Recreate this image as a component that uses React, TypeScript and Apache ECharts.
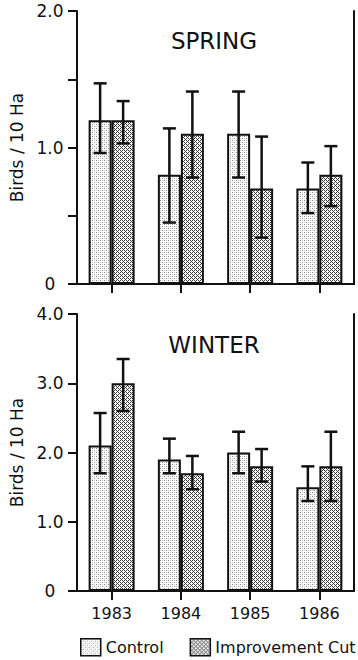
import React, { useEffect, useRef } from "react";
import * as echarts from "echarts";

const YEARS = ["1983", "1984", "1985", "1986"];

const SPRING_CONTROL = [1.2, 0.8, 1.1, 0.7];
const SPRING_CONTROL_LOW = [0.96, 0.45, 0.78, 0.52];
const SPRING_CONTROL_HIGH = [1.47, 1.14, 1.41, 0.89];
const SPRING_CUT = [1.2, 1.1, 0.7, 0.8];
const SPRING_CUT_LOW = [1.03, 0.78, 0.34, 0.57];
const SPRING_CUT_HIGH = [1.34, 1.41, 1.08, 1.01];

const WINTER_CONTROL = [2.1, 1.9, 2.0, 1.5];
const WINTER_CONTROL_LOW = [1.7, 1.7, 1.7, 1.3];
const WINTER_CONTROL_HIGH = [2.57, 2.2, 2.3, 1.8];
const WINTER_CUT = [3.0, 1.7, 1.8, 1.8];
const WINTER_CUT_LOW = [2.6, 1.47, 1.58, 1.3];
const WINTER_CUT_HIGH = [3.35, 1.95, 2.05, 2.3];

const FONT = "DejaVu Sans";
const INK = "#111";
const BAR_W = 23;

function makePattern(kind: "light" | "dense") {
  const c = document.createElement("canvas");
  c.width = 4;
  c.height = 4;
  const ctx = c.getContext("2d")!;
  ctx.fillStyle = "#ffffff";
  ctx.fillRect(0, 0, 4, 4);
  if (kind === "light") {
    ctx.fillStyle = "#8a8a8a";
    ctx.fillRect(0, 0, 1, 1);
    ctx.fillRect(2, 2, 1, 1);
    ctx.fillStyle = "#cfcfcf";
    ctx.fillRect(2, 0, 1, 1);
    ctx.fillRect(0, 2, 1, 1);
  } else {
    ctx.fillStyle = "#3a3a3a";
    for (let y = 0; y < 4; y++) {
      for (let x = 0; x < 4; x++) {
        if ((x + y) % 2 === 0) ctx.fillRect(x, y, 1, 1);
      }
    }
    ctx.fillStyle = "#ffffff";
    ctx.fillRect(1, 1, 1, 1);
    ctx.fillRect(3, 3, 1, 1);
  }
  return { image: c, repeat: "repeat" };
}

function errData(low: number[], high: number[]) {
  return low.map((l, i) => [i, l, high[i]]);
}

function errSeries(name: string, gi: number, data: number[][], offset: number) {
  return {
    type: "custom",
    name: name + " err",
    xAxisIndex: gi * 2,
    yAxisIndex: gi * 2,
    z: 5,
    silent: true,
    encode: { x: 0, y: [1, 2] },
    data,
    renderItem: (params: any, api: any) => {
      const i = api.value(0);
      const hi = api.coord([i, api.value(2)]);
      const lo = api.coord([i, api.value(1)]);
      const x = hi[0] + offset;
      const style = { stroke: INK, lineWidth: 2.5 };
      const cap = 6.5;
      return {
        type: "group",
        children: [
          { type: "line", shape: { x1: x, y1: hi[1], x2: x, y2: lo[1] }, style },
          { type: "line", shape: { x1: x - cap, y1: hi[1], x2: x + cap, y2: hi[1] }, style },
          { type: "line", shape: { x1: x - cap, y1: lo[1], x2: x + cap, y2: lo[1] }, style },
        ],
      };
    },
  };
}

export default function App() {
  const ref = useRef<HTMLDivElement>(null);
  useEffect(() => {
    if (!ref.current) return;
    const chart = echarts.init(ref.current, null, { renderer: "svg" });
    const light = makePattern("light");
    const dense = makePattern("dense");
    const axisLine = { show: true, lineStyle: { color: INK, width: 2 } };
    const labelFmt = (v: number) => (v === 0 ? "0" : v % 1 === 0 ? v.toFixed(1) : "");

    const grids = [
      { left: 75, right: 4, top: 11, height: 273 },
      { left: 75, right: 4, top: 314, height: 277 },
    ];
    const maxes = [2, 4];
    const intervals = [0.5, 1];

    const xAxis: any[] = [];
    const yAxis: any[] = [];
    [0, 1].forEach((gi) => {
      xAxis.push({
        gridIndex: gi,
        type: "category",
        data: YEARS,
        position: "bottom",
        axisLine,
        axisTick: { show: true, alignWithLabel: true, length: 9, lineStyle: { color: INK, width: 2 } },
        axisLabel: {
          show: gi === 1,
          margin: 14,
          fontSize: 16,
          color: INK,
          fontFamily: FONT,
        },
        splitLine: { show: false },
      });
      xAxis.push({
        gridIndex: gi,
        type: "category",
        data: YEARS,
        position: "top",
        axisLine,
        axisTick: { show: false },
        axisLabel: { show: false },
        splitLine: { show: false },
      });
      yAxis.push({
        gridIndex: gi,
        type: "value",
        min: 0,
        max: maxes[gi],
        interval: intervals[gi],
        position: "left",
        axisLine,
        axisTick: { show: true, length: 9, lineStyle: { color: INK, width: 2 } },
        axisLabel: {
          formatter: labelFmt,
          align: "center",
          margin: 27,
          fontSize: 17,
          color: INK,
          fontFamily: FONT,
        },
        splitLine: { show: false },
        name: "Birds / 10 Ha",
        nameLocation: "middle",
        nameRotate: 90,
        nameGap: 52,
        nameTextStyle: { fontSize: 17, color: INK, fontFamily: FONT },
      });
      yAxis.push({
        gridIndex: gi,
        type: "value",
        min: 0,
        max: maxes[gi],
        interval: intervals[gi],
        position: "right",
        axisLine,
        axisTick: { show: false },
        axisLabel: { show: false },
        splitLine: { show: false },
      });
    });

    const barStyle = (color: any) => ({ color, borderColor: INK, borderWidth: 2 });

    const series: any[] = [
      {
        type: "bar", name: "Control", xAxisIndex: 0, yAxisIndex: 0, data: SPRING_CONTROL,
        barWidth: BAR_W, barGap: "0%", itemStyle: barStyle(light),
      },
      {
        type: "bar", name: "Improvement Cut", xAxisIndex: 0, yAxisIndex: 0, data: SPRING_CUT,
        barWidth: BAR_W, barGap: "0%", itemStyle: barStyle(dense),
      },
      {
        type: "bar", name: "Control", xAxisIndex: 2, yAxisIndex: 2, data: WINTER_CONTROL,
        barWidth: BAR_W, barGap: "0%", itemStyle: barStyle(light),
      },
      {
        type: "bar", name: "Improvement Cut", xAxisIndex: 2, yAxisIndex: 2, data: WINTER_CUT,
        barWidth: BAR_W, barGap: "0%", itemStyle: barStyle(dense),
      },
      errSeries("Control", 0, errData(SPRING_CONTROL_LOW, SPRING_CONTROL_HIGH), -BAR_W / 2),
      errSeries("Improvement Cut", 0, errData(SPRING_CUT_LOW, SPRING_CUT_HIGH), BAR_W / 2),
      errSeries("Control", 1, errData(WINTER_CONTROL_LOW, WINTER_CONTROL_HIGH), -BAR_W / 2),
      errSeries("Improvement Cut", 1, errData(WINTER_CUT_LOW, WINTER_CUT_HIGH), BAR_W / 2),
    ];

    chart.setOption({
      animation: false,
      backgroundColor: "#ffffff",
      textStyle: { fontFamily: FONT, color: INK },
      grid: grids,
      xAxis,
      yAxis,
      series,
      legend: {
        data: ["Control", "Improvement Cut"],
        left: 80,
        top: 638,
        width: 278,
        padding: 0,
        icon: "rect",
        itemWidth: 20,
        itemHeight: 17,
        itemGap: 26,
        selectedMode: false,
        itemStyle: { borderColor: INK, borderWidth: 1.5 },
        textStyle: { fontSize: 16, color: INK, fontFamily: FONT },
      },
      graphic: [
        {
          type: "text",
          x: 214,
          y: 41,
          style: { text: "SPRING", fontSize: 23, fontFamily: FONT, fill: INK, align: "center", verticalAlign: "middle" },
        },
        {
          type: "text",
          x: 214,
          y: 345,
          style: { text: "WINTER", fontSize: 23, fontFamily: FONT, fill: INK, align: "center", verticalAlign: "middle" },
        },
      ],
    });
    return () => chart.dispose();
  }, []);
  return (
    <div
      ref={ref}
      style={{ position: "fixed", left: 0, top: 0, width: 358, height: 660, background: "#fff" }}
    />
  );
}
